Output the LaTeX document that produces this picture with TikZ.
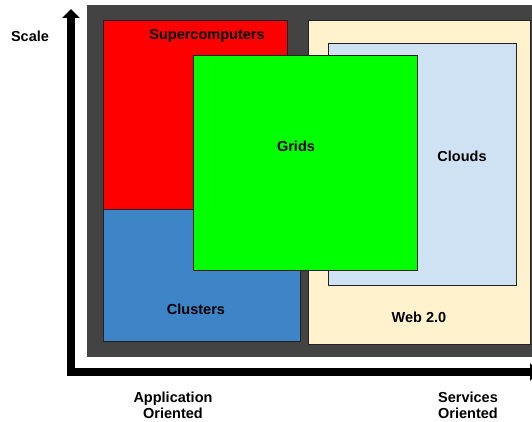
\documentclass[tikz,border=0pt]{standalone}
\usepackage{fontspec}
\setmainfont{Liberation Sans}
\usetikzlibrary{arrows.meta}
\definecolor{frame}{HTML}{434343}
\definecolor{superred}{HTML}{FF0000}
\definecolor{gridgreen}{HTML}{00FF00}
\definecolor{clusterblue}{HTML}{3D85C6}
\definecolor{webcream}{HTML}{FFF2CC}
\definecolor{cloudblue}{HTML}{CFE2F3}
\definecolor{edge}{HTML}{222222}
\begin{document}
\begin{tikzpicture}[x=1pt,y=-1pt,line join=miter,
		font=\fontsize{14.5}{15.5}\selectfont\bfseries,
		area/.style={draw=edge,line width=1pt},
		axis/.style={line width=7.5pt,-{Triangle[width=17pt,length=9pt]}},
		lbl/.style={inner sep=0pt,align=center}]
			\useasboundingbox (0,0) rectangle (532,422);
			\fill[frame] (86.5,5.5) rectangle (540,356.5);
			\draw[area,fill=superred] (103,21) rectangle (287.5,209);
			\draw[area,fill=clusterblue] (103,209) rectangle (300.5,341.5);
			\draw[area,fill=webcream] (308,21) rectangle (530,344);
			\draw[area,fill=cloudblue] (328,43.5) rectangle (516,285);
			\draw[area,fill=gridgreen] (193,56) rectangle (417.5,270);
			\node[lbl] (super) at (207,36) {Supercomputers};
			\node[lbl] (grids) at (296,146) {Grids};
			\node[lbl] (clouds) at (462,156) {Clouds};
			\node[lbl] (clusters) at (196,309) {Clusters};
			\node[lbl] (web) at (419,317) {Web 2.0};
			% axes
			\coordinate (origin) at (71,376);
			\coordinate (top) at (71,9);
			\coordinate (corner) at (67,372);
			\coordinate (right) at (539,372);
			\draw[axis] (origin)--(top);
			\draw[axis] (corner)--(right);
			\node[lbl] (scale) at (30,36) {Scale};
			\node[lbl] (app) at (173,405.5) {Application\\Oriented};
			\node[lbl] (serv) at (468,405.5) {Services\\Oriented};
		\end{tikzpicture}
\end{document}
